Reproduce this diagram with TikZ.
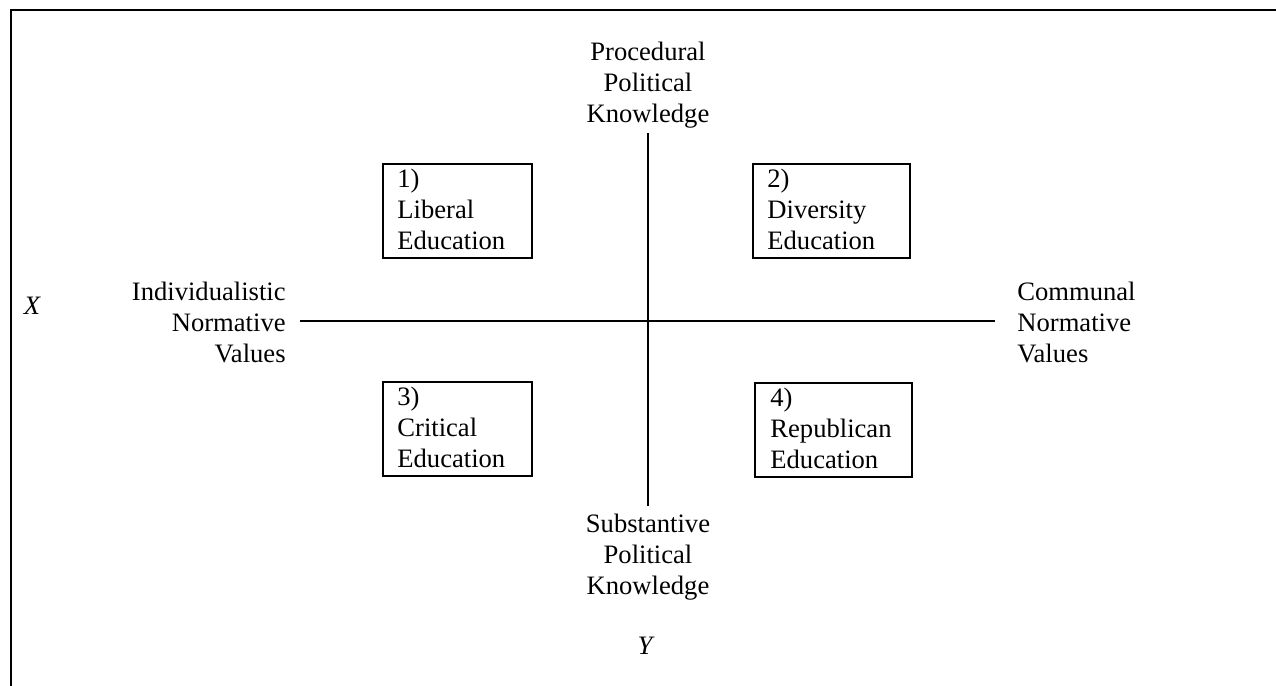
\documentclass[tikz,border=0pt]{standalone}
\usepackage{fontspec}
\setmainfont{Liberation Serif}
\begin{document}
\begin{tikzpicture}[x=0.5pt,y=-0.5pt,
  every node/.style={font=\fontsize{13.3pt}{15.5pt}\selectfont, inner sep=0pt},
  lbl/.style={align=center},
  edubox/.style={draw, line width=1pt, minimum width=74.5pt, minimum height=47pt},
  wideedubox/.style={edubox, minimum width=78.5pt},
  edutext/.style={align=left, anchor=north west},
  axis/.style={line width=0.9pt}]
\useasboundingbox (0,0) rectangle (1276,686);
% outer frame (top and left edges)
\draw[line width=1pt] (11,686) -- (11,10) -- (1276,10);
% axis labels
\node[lbl, anchor=south] (top) at (648,129) {Procedural\\Political\\Knowledge};
\node[lbl, anchor=north] (bot) at (648,514) {Substantive\\Political\\Knowledge};
\node[align=right, anchor=east] (left) at (286,322) {Individualistic\\Normative\\Values};
\node[align=left, anchor=west] (right) at (1017,322) {Communal\\Normative\\Values};
\node[font=\fontsize{13.3pt}{15.5pt}\selectfont\itshape] (xl) at (32,306) {X};
\node[font=\fontsize{13.3pt}{15.5pt}\selectfont\itshape] (yl) at (645,646) {Y};
\coordinate (c) at (648,321);
% axes
\draw[axis] ([yshift=-2pt]top.south) -- ([yshift=4pt]bot.north);
\draw[axis] ([xshift=7pt]left.east |- c) -- ([xshift=-11pt]right.west |- c);
% boxes
\node[edubox] (b1) at (457.5,211) {};
\node[wideedubox] (b2) at (831.5,211) {};
\node[edubox] (b3) at (457.5,429) {};
\node[wideedubox] (b4) at (833.5,430) {};
\node[edutext] (t1) at ([xshift=7.5pt,yshift=-3pt]b1.north west) {1)\\Liberal\\Education};
\node[edutext] (t2) at ([xshift=7.5pt,yshift=-3pt]b2.north west) {2)\\Diversity\\Education};
\node[edutext] (t3) at ([xshift=7.5pt,yshift=-3pt]b3.north west) {3)\\Critical\\Education};
\node[edutext] (t4) at ([xshift=8pt,yshift=-3pt]b4.north west) {4)\\Republican\\Education};
\end{tikzpicture}
\end{document}
